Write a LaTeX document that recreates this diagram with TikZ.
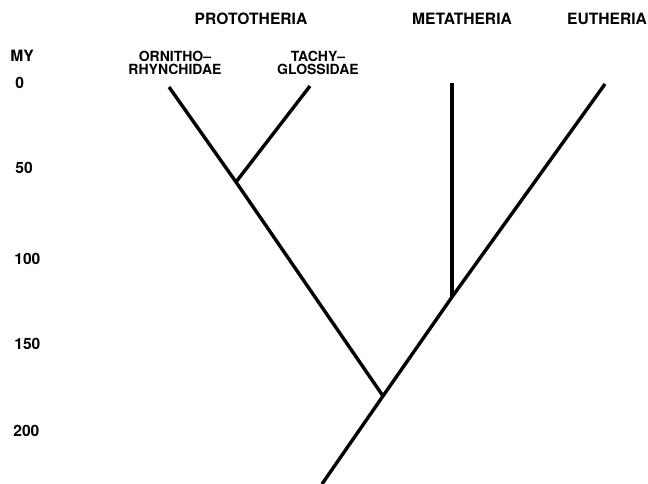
\documentclass[tikz,border=0pt]{standalone}
\usepackage{fontspec}
\setmainfont{TeX Gyre Heros}
\usetikzlibrary{positioning}

\begin{document}
\begin{tikzpicture}[
    x=0.5pt, y=-0.5pt,
    branch/.style={line width=1.7pt, line cap=butt},
    taxon/.style={inner sep=0pt, align=center, font=\bfseries\fontsize{7}{6.6}\selectfont},
    group/.style={inner sep=0pt, font=\bfseries\fontsize{7.8}{8}\selectfont},
    tick/.style={inner sep=0pt, anchor=west, font=\bfseries\fontsize{7.8}{8}\selectfont}
]
\useasboundingbox (0,0) rectangle (648,483);
% tips and splits
\coordinate (orn) at (169,87);
\coordinate (tac) at (310,86);
\coordinate (met) at (452,83);
\coordinate (eut) at (605,84);
\coordinate (mono) at (236,182);
\coordinate (theria) at (452,297);
\coordinate (mamm) at (383,396);
\coordinate (root) at (322,484);
% group names
\node[group] (proto) at (251,19) {PROTOTHERIA};
\node[group] (meta) at (462,19) {METATHERIA};
\node[group] (euth) at (607,19) {EUTHERIA};
% family names
\node[taxon] (ornlab) at (175,63) {ORNITHO--\\RHYNCHIDAE};
\node[taxon] (taclab) at (318,63) {TACHY--\\GLOSSIDAE};
% time scale
\node[tick] (my) at (10,56) {MY};
\node[tick] (t0) at (15,83) {0};
\node[tick] (t50) at (15,168) {50};
\node[tick] (t100) at (14,259) {100};
\node[tick] (t150) at (14,344) {150};
\node[tick] (t200) at (13,431) {200};
% tree
\draw[branch] (root) -- (mamm) -- (theria) -- (eut);
\draw[branch] (mamm) -- (mono) -- (orn);
\draw[branch] (mono) -- (tac);
\draw[branch] (theria) -- (met);
\end{tikzpicture}
\end{document}
